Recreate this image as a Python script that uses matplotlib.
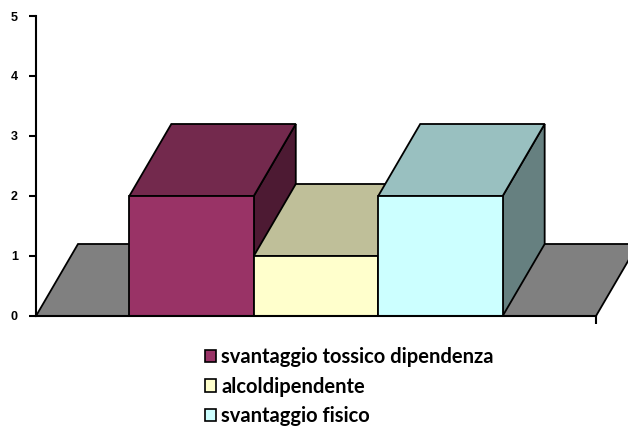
import matplotlib
matplotlib.use("Agg")
import matplotlib.pyplot as plt
from matplotlib.patches import Polygon, Patch

# data
categories = ["svantaggio tossico dipendenza", "alcoldipendente", "svantaggio fisico"]
values = [2, 1, 2]
front_colors = ["#993366", "#FFFFCC", "#CCFFFF"]
top_colors = ["#73294D", "#BFBF99", "#99C0C0"]
side_colors = ["#4D1A33", "#808066", "#668080"]
yticks = [0, 1, 2, 3, 4, 5]

# 3d look: depth offset in data units
ddx = 0.3375
ddy = 1.2
xmax = 4.5
start = 0.75

fig = plt.figure(figsize=(6.28, 4.26), dpi=100)
ax = fig.add_axes([36 / 628, 110 / 426, 560 / 628, 300 / 426])
ax.set_xlim(0, xmax)
ax.set_ylim(0, 5)

lw = 1.3
# floor
floor = Polygon([(0, 0), (xmax, 0), (xmax + ddx, ddy), (ddx, ddy)],
                closed=True, facecolor="#808080", edgecolor="black", lw=lw,
                clip_on=False, zorder=1)
ax.add_patch(floor)

# bars
for i, v in enumerate(values):
    x0 = start + i
    x1 = x0 + 1
    front = Polygon([(x0, 0), (x1, 0), (x1, v), (x0, v)], facecolor=front_colors[i],
                    edgecolor="black", lw=lw, clip_on=False, zorder=2 + i)
    top = Polygon([(x0, v), (x1, v), (x1 + ddx, v + ddy), (x0 + ddx, v + ddy)],
                  facecolor=top_colors[i], edgecolor="black", lw=lw, clip_on=False, zorder=2 + i)
    side = Polygon([(x1, 0), (x1 + ddx, ddy), (x1 + ddx, v + ddy), (x1, v)],
                   facecolor=side_colors[i], edgecolor="black", lw=lw, clip_on=False, zorder=2 + i)
    for p in (side, top, front):
        ax.add_patch(p)

for s in ["top", "right"]:
    ax.spines[s].set_visible(False)
for s in ["left", "bottom"]:
    ax.spines[s].set_linewidth(1.5)
    ax.spines[s].set_zorder(10)

ax.set_yticks(yticks)
ax.set_yticklabels([str(t) for t in yticks], fontsize=9, fontweight="bold",
                   family="Liberation Sans")
ax.tick_params(axis="y", length=5, width=1.5, pad=8)
ax.set_xticks([xmax])
ax.set_xticklabels([""])
ax.tick_params(axis="x", length=6, width=1.5)

handles = [Patch(facecolor=front_colors[i], edgecolor="black", lw=1.2) for i in range(3)]
fig.legend(handles, categories, loc="upper left", bbox_to_anchor=(187 / 628, 1 - 329 / 426),
           frameon=False, prop={"family": "Lato", "weight": "bold", "size": 14.5},
           handlelength=0.55, handleheight=0.55, handletextpad=0.25, labelspacing=0.47)

fig.savefig("out.png", dpi=100)
